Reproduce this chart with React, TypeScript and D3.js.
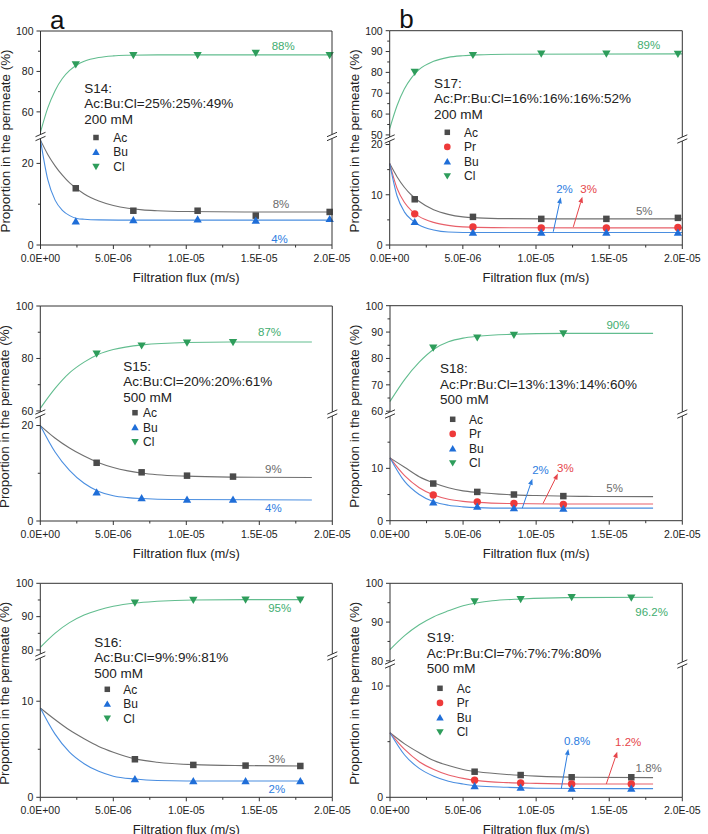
import React, { useEffect, useRef } from "react";
import * as d3 from "d3";

type Pt = [number, number];

const FONT = "'Liberation Sans', Arial, Helvetica, sans-serif";

// flux axis, values in units of 1E-6 m/s
const xTicks = [0, 5, 10, 15, 20];
const xTickLabels = ["0.0E+00", "5.0E-06", "1.0E-05", "1.5E-05", "2.0E-05"];
const xMinorTicks = [2.5, 7.5, 12.5, 17.5];

// ---- S14 ----
const s14Info = ["S14:", "Ac:Bu:Cl=25%:25%:49%", "200 mM"];
const s14X = [2.42, 6.37, 10.78, 14.77, 19.84];
const s14Ac = [13.9, 8.4, 8.4, 7.2, 8.1];
const s14Bu = [5.8, 6.1, 6.3, 6.0, 6.4];
const s14Cl = [83.4, 88.0, 88.0, 89.1, 88.0];
const s14AcFit: Pt[] = [[0, 25.7], [0.5, 22.2], [1, 19.4], [1.5, 17.1], [2, 15.2], [3, 12.5], [4, 10.8], [5, 9.7], [6, 9.0], [7, 8.6], [8, 8.4], [10, 8.2], [14, 8.1], [20, 8.1]];
const s14BuFit: Pt[] = [[0, 25.7], [0.5, 16], [1, 11], [1.5, 8.5], [2, 7.2], [2.5, 6.5], [3, 6.3], [4, 6.15], [6, 6.1], [20, 6.1]];
const s14ClFit: Pt[] = [[0, 50], [0.5, 62], [1, 70.5], [1.5, 76.5], [2, 80.5], [2.5, 83.2], [3, 85], [4, 86.9], [5, 87.7], [6, 88.0], [8, 88.2], [20, 88.2]];
const s14Labels = [
  { ion: "Cl", text: "88%", x: 16.65, y: 92.7 },
  { ion: "Ac", text: "8%", x: 16.5, y: 10.0 },
  { ion: "Bu", text: "4%", x: 16.4, y: 1.5 },
];

// ---- S17 ----
const s17Info = ["S17:", "Ac:Pr:Bu:Cl=16%:16%:16%:52%", "200 mM"];
const s17X = [1.71, 5.69, 10.36, 14.81, 19.7];
const s17Ac = [9.1, 5.6, 5.2, 5.2, 5.4];
const s17Pr = [6.2, 3.6, 3.4, 3.4, 3.5];
const s17Bu = [4.6, 2.5, 2.5, 2.5, 2.5];
const s17Cl = [80.2, 88.3, 89.0, 89.0, 88.8];
const s17AcFit: Pt[] = [[0, 16.2], [0.5, 13.6], [1, 11.5], [1.5, 9.9], [2, 8.7], [3, 7.0], [4, 6.1], [5, 5.6], [6, 5.4], [8, 5.25], [12, 5.2], [20, 5.2]];
const s17PrFit: Pt[] = [[0, 16.2], [0.5, 11.3], [1, 8.5], [1.5, 6.8], [2, 5.7], [3, 4.5], [4, 3.9], [5, 3.6], [7, 3.45], [20, 3.4]];
const s17BuFit: Pt[] = [[0, 16.2], [0.5, 9.8], [1, 6.6], [1.5, 5.0], [2, 4.0], [3, 3.0], [4, 2.6], [6, 2.5], [20, 2.5]];
const s17ClFit: Pt[] = [[0, 53], [0.5, 64], [1, 72], [1.5, 77.5], [2, 81.3], [3, 85.3], [4, 87.2], [5, 88.0], [6, 88.4], [8, 88.7], [20, 88.9]];
const s17Labels = [
  { ion: "Cl", text: "89%", x: 17.7, y: 93.1 },
  { ion: "Ac", text: "5%", x: 17.4, y: 6.8 },
  { ion: "Bu", text: "2%", x: 11.95, y: 11.2 },
  { ion: "Pr", text: "3%", x: 13.6, y: 11.2 },
];
const s17Arrows = [
  { ion: "Bu", from: [11.18, 2.64] as Pt, to: [11.69, 9.5] as Pt },
  { ion: "Pr", from: [12.55, 3.6] as Pt, to: [13.17, 9.6] as Pt },
];

// ---- S15 ----
const s15Info = ["S15:", "Ac:Bu:Cl=20%:20%:61%", "500 mM"];
const s15X = [3.86, 6.94, 10.05, 13.2];
const s15Ac = [12.2, 10.2, 9.5, 9.3];
const s15Bu = [6.0, 4.8, 4.5, 4.5];
const s15Cl = [81.8, 84.9, 86.0, 86.2];
const s15AcFit: Pt[] = [[0, 20], [1, 17.4], [2, 15.3], [3, 13.6], [4, 12.2], [5, 11.2], [6, 10.5], [7, 10.0], [8, 9.7], [10, 9.4], [13, 9.2], [18.6, 9.1]];
const s15BuFit: Pt[] = [[0, 20], [1, 14.5], [2, 10.6], [3, 7.9], [4, 6.2], [5, 5.3], [6, 4.9], [7, 4.7], [9, 4.5], [18.6, 4.4]];
const s15ClFit: Pt[] = [[0, 61], [1, 68.5], [2, 74.5], [3, 78.6], [4, 81.6], [5, 83.4], [7, 85.2], [10, 86.1], [13, 86.3], [18.6, 86.3]];
const s15Labels = [
  { ion: "Cl", text: "87%", x: 15.7, y: 90 },
  { ion: "Ac", text: "9%", x: 15.96, y: 10.85 },
  { ion: "Bu", text: "4%", x: 15.96, y: 2.8 },
];

// ---- S18 ----
const s18Info = ["S18:", "Ac:Pr:Bu:Cl=13%:13%:14%:60%", "500 mM"];
const s18X = [2.96, 5.97, 8.48, 11.86];
const s18Ac = [7.1, 5.5, 5.0, 4.7];
const s18Pr = [4.9, 3.6, 3.3, 3.1];
const s18Bu = [3.5, 2.7, 2.4, 2.3];
const s18Cl = [84.1, 87.9, 88.9, 89.5];
const s18AcFit: Pt[] = [[0, 12], [1, 10.2], [2, 8.4], [3, 7.2], [4, 6.3], [5, 5.7], [6, 5.4], [8, 5.0], [10, 4.8], [13, 4.65], [18, 4.6]];
const s18PrFit: Pt[] = [[0, 12], [1, 8.6], [2, 6.3], [3, 4.9], [4, 4.1], [5, 3.7], [6, 3.5], [8, 3.3], [12, 3.2], [18, 3.2]];
const s18BuFit: Pt[] = [[0, 12], [1, 7.5], [2, 5], [3, 3.6], [4, 2.95], [5, 2.65], [6, 2.5], [8, 2.4], [18, 2.4]];
const s18ClFit: Pt[] = [[0, 63.7], [1, 72], [2, 78.6], [3, 83.5], [4, 86.3], [5, 87.7], [6, 88.4], [8, 89.1], [12, 89.5], [18, 89.5]];
const s18Labels = [
  { ion: "Cl", text: "90%", x: 15.6, y: 92.7 },
  { ion: "Ac", text: "5%", x: 15.37, y: 6.2 },
  { ion: "Bu", text: "2%", x: 10.3, y: 9.7 },
  { ion: "Pr", text: "3%", x: 12.0, y: 10.0 },
];
const s18Arrows = [
  { ion: "Bu", from: [9.05, 2.4] as Pt, to: [9.74, 8.0] as Pt },
  { ion: "Pr", from: [10.47, 3.3] as Pt, to: [11.49, 9.0] as Pt },
];

// ---- S16 ----
const s16Info = ["S16:", "Ac:Bu:Cl=9%:9%:81%", "500 mM"];
const s16X = [6.48, 10.48, 14.06, 17.81];
const s16Ac = [3.96, 3.37, 3.3, 3.26];
const s16Bu = [1.9, 1.7, 1.7, 1.7];
const s16Cl = [94.2, 95.0, 95.1, 95.1];
const s16AcFit: Pt[] = [[0, 9.3], [1, 8.1], [2, 7.0], [3, 6.1], [4, 5.3], [5, 4.7], [6.5, 4.0], [8, 3.65], [10.5, 3.4], [14, 3.3], [18, 3.26]];
const s16BuFit: Pt[] = [[0, 9.3], [1, 6.6], [2, 4.7], [3, 3.5], [4, 2.7], [5, 2.2], [6.5, 1.9], [8, 1.75], [10, 1.7], [18, 1.7]];
const s16ClFit: Pt[] = [[0, 80.8], [1, 85], [2, 88.2], [3, 90.5], [4, 92], [5, 93.1], [6.5, 94.1], [8, 94.6], [10.5, 95], [14, 95.1], [18, 95.1]];
const s16Labels = [
  { ion: "Cl", text: "95%", x: 16.4, y: 92.5 },
  { ion: "Ac", text: "3%", x: 16.2, y: 4.0 },
  { ion: "Bu", text: "2%", x: 16.2, y: 0.83 },
];

// ---- S19 ----
const s19Info = ["S19:", "Ac:Pr:Bu:Cl=7%:7%:7%:80%", "500 mM"];
const s19X = [5.79, 8.94, 12.43, 16.51];
const s19Ac = [2.3, 2.0, 1.8, 1.8];
const s19Pr = [1.53, 1.29, 1.2, 1.2];
const s19Bu = [1.02, 0.87, 0.78, 0.78];
const s19Cl = [95.3, 95.9, 96.4, 96.3];
const s19AcFit: Pt[] = [[0, 5.8], [1, 4.8], [2, 4.0], [3, 3.3], [4, 2.85], [5, 2.5], [6, 2.3], [8, 2.05], [10, 1.9], [13, 1.8], [18, 1.77]];
const s19PrFit: Pt[] = [[0, 5.8], [1, 4.3], [2, 3.2], [3, 2.5], [4, 2.0], [5, 1.7], [6, 1.5], [8, 1.32], [10, 1.25], [13, 1.2], [18, 1.2]];
const s19BuFit: Pt[] = [[0, 5.8], [1, 3.8], [2, 2.6], [3, 1.9], [4, 1.45], [5, 1.2], [6, 1.02], [8, 0.9], [10, 0.82], [13, 0.79], [18, 0.78]];
const s19ClFit: Pt[] = [[0, 82.9], [1, 86.5], [2, 89.3], [3, 91.4], [4, 92.9], [5, 94.2], [6, 95.0], [7, 95.5], [9, 95.95], [12, 96.3], [18, 96.4]];
const s19Labels = [
  { ion: "Cl", text: "96.2%", x: 17.9, y: 92.5 },
  { ion: "Ac", text: "1.8%", x: 17.7, y: 2.6 },
  { ion: "Bu", text: "0.8%", x: 12.8, y: 5.06 },
  { ion: "Pr", text: "1.2%", x: 16.3, y: 5.0 },
];
const s19Arrows = [
  { ion: "Bu", from: [11.72, 0.78] as Pt, to: [12.2, 4.34] as Pt },
  { ion: "Pr", from: [14.8, 1.2] as Pt, to: [15.55, 4.1] as Pt },
];

const ionStyle: Record<string, { shape: string; marker: string; line: string; text: string }> = {
  Ac: { shape: "square", marker: "#4b4b4b", line: "#707070", text: "#6b6b6b" },
  Pr: { shape: "circle", marker: "#ee3a3a", line: "#e8606a", text: "#e6454a" },
  Bu: { shape: "up", marker: "#1f6ed8", line: "#4a8ee0", text: "#2d7ddf" },
  Cl: { shape: "down", marker: "#2e9d5b", line: "#62bd8f", text: "#3fad70" },
};

const panels = [
  {
    letter: "a", left: 40.5, right: 332, top: 31, bottom: 245, breakY: 136.5,
    upper: [48.8, 100], lower: [0, 26.1],
    upTicks: [60, 80, 100], upMinor: [70, 90], lowTicks: [0, 20], lowMinor: [10],
    info: s14Info, infoX: 84.3, infoY: 92.8,
    legMarkX: 96, legTextX: 113.3, legY: 137.5,
    series: [
      { ion: "Ac", x: s14X, y: s14Ac, fit: s14AcFit },
      { ion: "Bu", x: s14X, y: s14Bu, fit: s14BuFit },
      { ion: "Cl", x: s14X, y: s14Cl, fit: s14ClFit },
    ],
    labels: s14Labels, arrows: [],
  },
  {
    letter: "b", left: 389.7, right: 682.3, top: 30.7, bottom: 245, breakY: 139,
    upper: [49, 100], lower: [0, 20.7],
    upTicks: [50, 60, 70, 80, 90, 100], upMinor: [55, 65, 75, 85, 95], lowTicks: [0, 10, 20], lowMinor: [5, 15],
    info: s17Info, infoX: 434, infoY: 87.5,
    legMarkX: 447.3, legTextX: 464, legY: 132.3,
    series: [
      { ion: "Ac", x: s17X, y: s17Ac, fit: s17AcFit },
      { ion: "Pr", x: s17X, y: s17Pr, fit: s17PrFit },
      { ion: "Bu", x: s17X, y: s17Bu, fit: s17BuFit },
      { ion: "Cl", x: s17X, y: s17Cl, fit: s17ClFit },
    ],
    labels: s17Labels, arrows: s17Arrows,
  },
  {
    letter: "", left: 40.3, right: 332.3, top: 306, bottom: 521, breakY: 414,
    upper: [59.6, 100], lower: [0, 22],
    upTicks: [60, 80, 100], upMinor: [70, 90], lowTicks: [0, 20], lowMinor: [10],
    info: s15Info, infoX: 123.3, infoY: 370.8,
    legMarkX: 135, legTextX: 143, legY: 412.7,
    series: [
      { ion: "Ac", x: s15X, y: s15Ac, fit: s15AcFit },
      { ion: "Bu", x: s15X, y: s15Bu, fit: s15BuFit },
      { ion: "Cl", x: s15X, y: s15Cl, fit: s15ClFit },
    ],
    labels: s15Labels, arrows: [],
  },
  {
    letter: "", left: 390, right: 682.3, top: 305.7, bottom: 520.7, breakY: 414,
    upper: [59.7, 100], lower: [0, 20],
    upTicks: [60, 70, 80, 90, 100], upMinor: [65, 75, 85, 95], lowTicks: [0, 10], lowMinor: [5, 15],
    info: s18Info, infoX: 440, infoY: 373,
    legMarkX: 452.7, legTextX: 469, legY: 419.3,
    series: [
      { ion: "Ac", x: s18X, y: s18Ac, fit: s18AcFit },
      { ion: "Pr", x: s18X, y: s18Pr, fit: s18PrFit },
      { ion: "Bu", x: s18X, y: s18Bu, fit: s18BuFit },
      { ion: "Cl", x: s18X, y: s18Cl, fit: s18ClFit },
    ],
    labels: s18Labels, arrows: s18Arrows,
  },
  {
    letter: "", left: 40.3, right: 332.3, top: 583.3, bottom: 797.3, breakY: 656,
    upper: [78.8, 100], lower: [0, 14.5],
    upTicks: [80, 90, 100], upMinor: [85, 95], lowTicks: [0, 10], lowMinor: [5],
    info: s16Info, infoX: 94.3, infoY: 646.5,
    legMarkX: 107.3, legTextX: 123.3, legY: 689.3,
    series: [
      { ion: "Ac", x: s16X, y: s16Ac, fit: s16AcFit },
      { ion: "Bu", x: s16X, y: s16Bu, fit: s16BuFit },
      { ion: "Cl", x: s16X, y: s16Cl, fit: s16ClFit },
    ],
    labels: s16Labels, arrows: [],
  },
  {
    letter: "", left: 390, right: 682.3, top: 583.3, bottom: 797.3, breakY: 664,
    upper: [79.7, 100], lower: [0, 11.8],
    upTicks: [80, 90, 100], upMinor: [85, 95], lowTicks: [0, 10], lowMinor: [5],
    info: s19Info, infoX: 426.7, infoY: 642,
    legMarkX: 440, legTextX: 456.7, legY: 688.3,
    series: [
      { ion: "Ac", x: s19X, y: s19Ac, fit: s19AcFit },
      { ion: "Pr", x: s19X, y: s19Pr, fit: s19PrFit },
      { ion: "Bu", x: s19X, y: s19Bu, fit: s19BuFit },
      { ion: "Cl", x: s19X, y: s19Cl, fit: s19ClFit },
    ],
    labels: s19Labels, arrows: s19Arrows,
  },
];

const AXIS = "#333";

function drawMarker(g: any, ion: string, cx: number, cy: number, small: boolean) {
  const st = ionStyle[ion];
  if (st.shape === "square") {
    const s = small ? 5.5 : 6.5;
    g.append("rect").attr("x", cx - s / 2).attr("y", cy - s / 2).attr("width", s).attr("height", s).attr("fill", st.marker);
  } else if (st.shape === "circle") {
    g.append("circle").attr("cx", cx).attr("cy", cy).attr("r", small ? 3.3 : 3.7).attr("fill", st.marker);
  } else {
    const sym = d3.symbol().type(d3.symbolTriangle).size(small ? 24 : 30)();
    g.append("path")
      .attr("d", sym)
      .attr("fill", st.marker)
      .attr("transform", `translate(${cx},${cy + (st.shape === "up" ? 0.8 : -0.8)}) rotate(${st.shape === "up" ? 0 : 180})`);
  }
}

function drawPanel(svg: any, p: any) {
  const g = svg.append("g");
  const half = 2;
  const x = d3.scaleLinear().domain([0, 20]).range([p.left, p.right]);
  const yUp = d3.scaleLinear().domain(p.upper).range([p.breakY - half, p.top]);
  const yLow = d3.scaleLinear().domain(p.lower).range([p.bottom, p.breakY + half]);
  const yFor = (ion: string) => (ion === "Cl" ? yUp : yLow);

  // fitted curves
  p.series.forEach((s: any) => {
    const ys = yFor(s.ion);
    const line = d3.line<Pt>().x((d) => x(d[0])).y((d) => ys(d[1])).curve(d3.curveMonotoneX);
    g.append("path").attr("d", line(s.fit)).attr("fill", "none")
      .attr("stroke", ionStyle[s.ion].line).attr("stroke-width", 1.1);
  });

  // arrows
  p.arrows.forEach((a: any) => {
    const ys = yFor(a.ion);
    const col = ionStyle[a.ion].text;
    const x1 = x(a.from[0]), y1 = ys(a.from[1]), x2 = x(a.to[0]), y2 = ys(a.to[1]);
    const ang = Math.atan2(y2 - y1, x2 - x1);
    const hl = 6, hw = 2.4;
    const bx = x2 - hl * Math.cos(ang), by = y2 - hl * Math.sin(ang);
    g.append("line").attr("x1", x1).attr("y1", y1).attr("x2", bx).attr("y2", by)
      .attr("stroke", col).attr("stroke-width", 1);
    const px = -Math.sin(ang) * hw, py = Math.cos(ang) * hw;
    g.append("path")
      .attr("d", `M${x2},${y2}L${bx + px},${by + py}L${bx - px},${by - py}Z`)
      .attr("fill", col);
  });

  // data points
  p.series.forEach((s: any) => {
    const ys = yFor(s.ion);
    s.x.forEach((xv: number, i: number) => drawMarker(g, s.ion, x(xv), ys(s.y[i]), false));
  });

  // frame
  const ax = g.append("g").attr("stroke", AXIS).attr("stroke-width", 1).attr("fill", "none");
  ax.append("line").attr("x1", p.left).attr("x2", p.right).attr("y1", p.bottom).attr("y2", p.bottom);
  ax.append("line").attr("x1", p.left).attr("x2", p.right).attr("y1", p.top).attr("y2", p.top);
  [p.left, p.right].forEach((xx: number) => {
    ax.append("line").attr("x1", xx).attr("x2", xx).attr("y1", p.top).attr("y2", p.breakY - half);
    ax.append("line").attr("x1", xx).attr("x2", xx).attr("y1", p.breakY + half).attr("y2", p.bottom);
    [-half, half].forEach((dy) => {
      ax.append("line")
        .attr("x1", xx - 5).attr("y1", p.breakY + dy + 2.2)
        .attr("x2", xx + 5).attr("y2", p.breakY + dy - 2.2);
    });
  });

  // x ticks
  xTicks.forEach((t, i) => {
    ax.append("line").attr("x1", x(t)).attr("x2", x(t)).attr("y1", p.bottom).attr("y2", p.bottom + 4);
    g.append("text").attr("x", x(t)).attr("y", p.bottom + 17).attr("text-anchor", "middle")
      .attr("font-size", 10.5).attr("fill", "#222").text(xTickLabels[i]);
  });
  xMinorTicks.forEach((t) => {
    ax.append("line").attr("x1", x(t)).attr("x2", x(t)).attr("y1", p.bottom).attr("y2", p.bottom + 2.5);
  });

  // y ticks
  const yTicks = (scale: any, major: number[], minor: number[]) => {
    major.forEach((t) => {
      ax.append("line").attr("x1", p.left - 4).attr("x2", p.left).attr("y1", scale(t)).attr("y2", scale(t));
      g.append("text").attr("x", p.left - 7).attr("y", scale(t) + 3.8).attr("text-anchor", "end")
        .attr("font-size", 10.5).attr("fill", "#222").text(String(t));
    });
    minor.forEach((t) => {
      ax.append("line").attr("x1", p.left - 2.5).attr("x2", p.left).attr("y1", scale(t)).attr("y2", scale(t));
    });
  };
  yTicks(yUp, p.upTicks, p.upMinor);
  yTicks(yLow, p.lowTicks, p.lowMinor);

  // axis titles
  g.append("text").attr("x", (p.left + p.right) / 2).attr("y", p.bottom + 37)
    .attr("text-anchor", "middle").attr("font-size", 13).attr("fill", "#222").text("Filtration flux (m/s)");
  const cy = (p.top + p.bottom) / 2 + 3;
  g.append("text").attr("transform", `translate(${p.left - 31},${cy}) rotate(-90)`)
    .attr("text-anchor", "middle").attr("font-size", 13.4).attr("fill", "#222").text("Proportion in the permeate (%)");

  // sample info
  p.info.forEach((line: string, i: number) => {
    g.append("text").attr("x", p.infoX).attr("y", p.infoY + i * 15.5)
      .attr("font-size", 13.5).attr("fill", "#222").text(line);
  });

  // legend
  p.series.forEach((s: any, i: number) => {
    const ly = p.legY + i * 14.6;
    drawMarker(g, s.ion, p.legMarkX, ly, true);
    g.append("text").attr("x", p.legTextX).attr("y", ly + 4.2).attr("font-size", 12)
      .attr("fill", "#222").text(s.ion);
  });

  // value labels
  p.labels.forEach((l: any) => {
    const ys = yFor(l.ion);
    g.append("text").attr("x", x(l.x)).attr("y", ys(l.y) + 4.1).attr("text-anchor", "middle")
      .attr("font-size", 11.5).attr("fill", ionStyle[l.ion].text).text(l.text);
  });

  if (p.letter) {
    g.append("text").attr("x", p.left + 9.5).attr("y", p.top - 2.5).attr("font-size", 26)
      .attr("fill", "#111").text(p.letter);
  }
}

export default function App() {
  const ref = useRef<SVGSVGElement>(null);

  useEffect(() => {
    document.body.style.margin = "0";
    const svg = d3.select(ref.current);
    svg.selectAll("*").remove();
    svg.append("rect").attr("width", 708).attr("height", 834).attr("fill", "#fff");
    const root = svg.append("g").attr("font-family", FONT);
    panels.forEach((p) => drawPanel(root, p));
  }, []);

  return <svg ref={ref} width={708} height={834} style={{ display: "block" }} />;
}
